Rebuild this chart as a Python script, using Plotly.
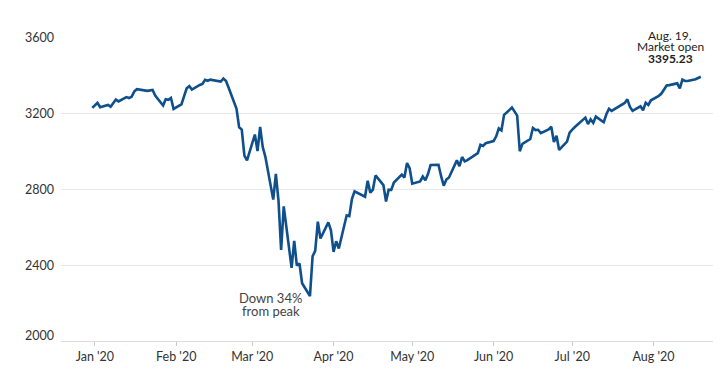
import plotly.graph_objects as go

dates = [
    "2019-12-31",
    "2020-01-02", "2020-01-03", "2020-01-06", "2020-01-07", "2020-01-08", "2020-01-09", "2020-01-10",
    "2020-01-13", "2020-01-14", "2020-01-15", "2020-01-16", "2020-01-17",
    "2020-01-21", "2020-01-22", "2020-01-23", "2020-01-24",
    "2020-01-27", "2020-01-28", "2020-01-29", "2020-01-30", "2020-01-31",
    "2020-02-03", "2020-02-04", "2020-02-05", "2020-02-06", "2020-02-07",
    "2020-02-10", "2020-02-11", "2020-02-12", "2020-02-13", "2020-02-14",
    "2020-02-18", "2020-02-19", "2020-02-20", "2020-02-21",
    "2020-02-24", "2020-02-25", "2020-02-26", "2020-02-27", "2020-02-28",
    "2020-03-02", "2020-03-03", "2020-03-04", "2020-03-05", "2020-03-06",
    "2020-03-09", "2020-03-10", "2020-03-11", "2020-03-12", "2020-03-13",
    "2020-03-16", "2020-03-17", "2020-03-18", "2020-03-19", "2020-03-20",
    "2020-03-23", "2020-03-24", "2020-03-25", "2020-03-26", "2020-03-27",
    "2020-03-30", "2020-03-31", "2020-04-01", "2020-04-02", "2020-04-03",
    "2020-04-06", "2020-04-07", "2020-04-08", "2020-04-09",
    "2020-04-13", "2020-04-14", "2020-04-15", "2020-04-16", "2020-04-17",
    "2020-04-20", "2020-04-21", "2020-04-22", "2020-04-23", "2020-04-24",
    "2020-04-27", "2020-04-28", "2020-04-29", "2020-04-30", "2020-05-01",
    "2020-05-04", "2020-05-05", "2020-05-06", "2020-05-07", "2020-05-08",
    "2020-05-11", "2020-05-12", "2020-05-13", "2020-05-14", "2020-05-15",
    "2020-05-18", "2020-05-19", "2020-05-20", "2020-05-21", "2020-05-22",
    "2020-05-26", "2020-05-27", "2020-05-28", "2020-05-29",
    "2020-06-01", "2020-06-02", "2020-06-03", "2020-06-04", "2020-06-05",
    "2020-06-08", "2020-06-09", "2020-06-10", "2020-06-11", "2020-06-12",
    "2020-06-15", "2020-06-16", "2020-06-17", "2020-06-18", "2020-06-19",
    "2020-06-22", "2020-06-23", "2020-06-24", "2020-06-25", "2020-06-26",
    "2020-06-29", "2020-06-30", "2020-07-01", "2020-07-02",
    "2020-07-06", "2020-07-07", "2020-07-08", "2020-07-09", "2020-07-10",
    "2020-07-13", "2020-07-14", "2020-07-15", "2020-07-16", "2020-07-17",
    "2020-07-20", "2020-07-21", "2020-07-22", "2020-07-23", "2020-07-24",
    "2020-07-27", "2020-07-28", "2020-07-29", "2020-07-30", "2020-07-31",
    "2020-08-03", "2020-08-04", "2020-08-05", "2020-08-06", "2020-08-07",
    "2020-08-10", "2020-08-11", "2020-08-12", "2020-08-13", "2020-08-14",
    "2020-08-17", "2020-08-18", "2020-08-19",
]

values = [
    3230.78,
    3257.85, 3234.85, 3246.28, 3237.18, 3253.05, 3274.70, 3265.35,
    3288.13, 3283.15, 3289.29, 3316.81, 3329.62,
    3320.79, 3321.75, 3325.54, 3295.47,
    3243.63, 3276.24, 3273.40, 3283.66, 3225.52,
    3248.92, 3297.59, 3334.69, 3345.78, 3327.71,
    3352.09, 3357.75, 3379.45, 3373.94, 3380.16,
    3370.29, 3386.15, 3373.23, 3337.75,
    3225.89, 3128.21, 3116.39, 2978.76, 2954.22,
    3090.23, 3003.37, 3130.12, 3023.94, 2972.37,
    2746.56, 2882.23, 2741.38, 2480.64, 2711.02,
    2386.13, 2529.19, 2398.10, 2409.39, 2304.92,
    2237.40, 2447.33, 2475.56, 2630.07, 2541.47,
    2626.65, 2584.59, 2470.50, 2526.90, 2488.65,
    2663.68, 2659.41, 2749.98, 2789.82,
    2761.63, 2846.06, 2783.36, 2799.55, 2874.56,
    2823.16, 2736.56, 2799.31, 2797.80, 2836.74,
    2878.48, 2863.39, 2939.51, 2912.43, 2830.71,
    2842.74, 2868.44, 2848.42, 2881.19, 2929.80,
    2930.32, 2870.12, 2820.00, 2852.50, 2863.70,
    2953.91, 2922.94, 2971.61, 2948.51, 2955.45,
    2991.77, 3036.13, 3029.73, 3044.31,
    3055.73, 3080.82, 3122.87, 3112.35, 3193.93,
    3232.39, 3207.18, 3190.14, 3002.10, 3041.31,
    3066.59, 3124.74, 3113.49, 3115.34, 3097.74,
    3117.86, 3131.29, 3050.33, 3083.76, 3009.05,
    3053.24, 3100.29, 3115.86, 3130.01,
    3179.72, 3145.32, 3169.94, 3152.05, 3185.04,
    3155.22, 3197.52, 3226.56, 3215.57, 3224.73,
    3251.84, 3257.30, 3276.02, 3235.66, 3215.63,
    3239.41, 3218.44, 3258.44, 3246.22, 3271.12,
    3294.61, 3306.51, 3327.77, 3349.16, 3351.28,
    3360.47, 3333.69, 3380.35, 3373.43, 3372.85,
    3381.99, 3389.78, 3395.23,
]

y_ticks = [2400, 2800, 3200, 3600]
y_min_label = 2000
x_tick_dates = ["2020-01-01", "2020-02-01", "2020-03-01", "2020-04-01",
                "2020-05-01", "2020-06-01", "2020-07-01", "2020-08-01"]
x_tick_labels = ["Jan '20", "Feb '20", "Mar '20", "Apr '20",
                 "May '20", "Jun '20", "Jul '20", "Aug '20"]

low_label = ["Down 34%", "from peak"]
last_label = ["Aug. 19,", "Market open", "<b>3395.23</b>"]

FONT = "Lato, 'Open Sans', sans-serif"
TXT = "#333333"

fig = go.Figure()
fig.add_trace(go.Scatter(
    x=dates, y=values, mode="lines",
    line=dict(color="#0f4f8c", width=2.6),
    hoverinfo="skip", showlegend=False,
))

# page body adds an 8px margin; figure sized so the plot lands where the reference has it
fig.update_layout(
    width=713, height=369,
    margin=dict(l=53, r=0, t=30, b=36),
    paper_bgcolor="white", plot_bgcolor="white",
    font=dict(family=FONT, size=12, color=TXT),
    xaxis=dict(
        type="date",
        range=["2019-12-19 02:00", "2020-08-26 17:00"],
        tickmode="array", tickvals=x_tick_dates, ticktext=x_tick_labels,
        showgrid=False, zeroline=False,
        showline=True, linecolor="#dcdcdc", linewidth=1,
        ticks="outside", ticklen=4, tickcolor="#c8c8c8", tickwidth=1,
        tickfont=dict(family=FONT, size=12.5, color=TXT),
    ),
    yaxis=dict(
        range=[2000, 3600],
        tickmode="array", tickvals=y_ticks,
        showgrid=True, gridcolor="#e8e8e8", gridwidth=1,
        zeroline=False, showline=False, ticks="",
        ticklabelstandoff=6,
        tickfont=dict(family=FONT, size=12.5, color=TXT),
    ),
)

# bottom y label sits slightly above the axis line, as in the reference
fig.add_annotation(
    x=0, xref="paper", y=y_min_label, yref="y",
    text=str(y_min_label), showarrow=False, xanchor="right", yanchor="middle",
    xshift=-5, yshift=6,
    font=dict(family=FONT, size=12.5, color=TXT),
)

# "Down 34% from peak" label
for t, yy in zip(low_label, [2229, 2160]):
    fig.add_annotation(
        x="2020-03-08", y=yy, xref="x", yref="y",
        text=t, showarrow=False, xanchor="center", yanchor="middle",
        font=dict(family=FONT, size=13, color="#444444"),
    )

# End label (first line sits just above the plot top)
for i, (t, yy, ys) in enumerate(zip(last_label, [3600, 3555, 3491], [3, 0, 0])):
    fig.add_annotation(
        x="2020-08-07 08:00", y=yy, xref="x", yref="y", yshift=ys,
        text=t, showarrow=False, xanchor="center", yanchor="middle",
        bgcolor="white" if i == 0 else None, borderpad=0,
        font=dict(family=FONT, size=12, color="#222222"),
    )

fig.write_html("out.html")
